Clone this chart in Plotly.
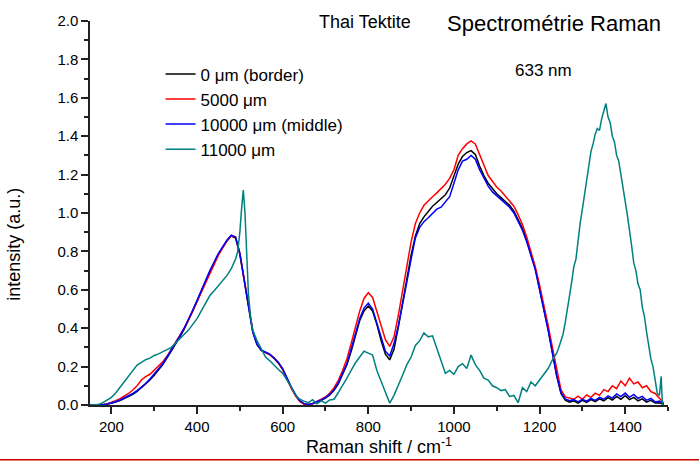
import plotly.graph_objects as go

# ---- data ----
shift = list(range(150, 1500, 10))  # Raman shift grid, cm-1 (150..1490)

i_0um = [
    0, 0, 0, 0.001, 0.004, 0.008, 0.015, 0.023, 0.033, 0.043,
    0.056, 0.071, 0.089, 0.108, 0.13, 0.155, 0.18, 0.21, 0.245, 0.28,
    0.315, 0.355, 0.395, 0.44, 0.49, 0.54, 0.595, 0.645, 0.695, 0.74,
    0.785, 0.82, 0.855, 0.88, 0.87, 0.785, 0.645, 0.505, 0.385, 0.315,
    0.285, 0.275, 0.262, 0.242, 0.218, 0.185, 0.135, 0.09, 0.05, 0.02,
    0.006, 0.002, 0.006, 0.014, 0.024, 0.036, 0.052, 0.076, 0.11, 0.16,
    0.21, 0.28, 0.36, 0.44, 0.49, 0.515, 0.49, 0.42, 0.335, 0.265,
    0.235, 0.29, 0.405, 0.53, 0.66, 0.78, 0.88, 0.945, 0.98, 1.01,
    1.035, 1.055, 1.075, 1.095, 1.13, 1.19, 1.255, 1.295, 1.315, 1.325,
    1.305, 1.245, 1.195, 1.155, 1.125, 1.10, 1.08, 1.06, 1.04, 1.01,
    0.965, 0.92, 0.86, 0.79, 0.71, 0.605, 0.505, 0.395, 0.275, 0.155,
    0.06, 0.025, 0.015, 0.022, 0.01, 0.024, 0.014, 0.028, 0.018, 0.032,
    0.022, 0.038, 0.026, 0.045, 0.03, 0.048, 0.028, 0.04, 0.022, 0.032,
    0.015, 0.024, 0.01, 0.012, 0.003,
]

i_5000um = [
    0, 0, 0, 0.002, 0.006, 0.013, 0.022, 0.033, 0.045, 0.06,
    0.078, 0.10, 0.13, 0.148, 0.16, 0.18, 0.20, 0.225, 0.255, 0.29,
    0.325, 0.362, 0.40, 0.442, 0.49, 0.54, 0.59, 0.64, 0.69, 0.737,
    0.78, 0.82, 0.855, 0.882, 0.875, 0.79, 0.65, 0.51, 0.39, 0.318,
    0.285, 0.272, 0.262, 0.245, 0.222, 0.185, 0.135, 0.088, 0.048, 0.018,
    0.004, 0.002, 0.008, 0.017, 0.03, 0.042, 0.062, 0.09, 0.128, 0.18,
    0.24, 0.32, 0.40, 0.49, 0.555, 0.585, 0.56, 0.49, 0.41, 0.34,
    0.305, 0.355, 0.465, 0.595, 0.73, 0.85, 0.945, 1.0, 1.04, 1.065,
    1.085, 1.105, 1.125, 1.15, 1.18, 1.225, 1.30, 1.335, 1.36, 1.375,
    1.36, 1.305, 1.25, 1.195, 1.165, 1.135, 1.115, 1.09, 1.065, 1.035,
    0.99, 0.94, 0.875, 0.80, 0.72, 0.625, 0.525, 0.415, 0.30, 0.18,
    0.08, 0.042, 0.035, 0.03, 0.046, 0.03, 0.052, 0.04, 0.062, 0.05,
    0.08, 0.07, 0.10, 0.085, 0.125, 0.10, 0.14, 0.11, 0.12, 0.09,
    0.10, 0.07, 0.06, 0.035, 0.01,
]

i_10000um = [
    0, 0, 0, 0.002, 0.005, 0.01, 0.017, 0.026, 0.036, 0.046,
    0.06, 0.075, 0.093, 0.112, 0.135, 0.16, 0.185, 0.215, 0.25, 0.285,
    0.32, 0.36, 0.40, 0.445, 0.495, 0.545, 0.60, 0.65, 0.70, 0.745,
    0.79, 0.825, 0.86, 0.885, 0.875, 0.79, 0.65, 0.50, 0.38, 0.315,
    0.285, 0.275, 0.265, 0.245, 0.222, 0.19, 0.14, 0.095, 0.055, 0.022,
    0.007, 0.003, 0.008, 0.016, 0.026, 0.038, 0.055, 0.08, 0.115, 0.165,
    0.215, 0.29, 0.37, 0.45, 0.505, 0.53, 0.50, 0.43, 0.35, 0.28,
    0.255, 0.32, 0.41, 0.52, 0.64, 0.76, 0.87, 0.925, 0.955, 0.975,
    0.995, 1.02, 1.03, 1.055, 1.085, 1.155, 1.225, 1.27, 1.28, 1.30,
    1.28, 1.225, 1.18, 1.14, 1.11, 1.09, 1.075, 1.055, 1.03, 1.0,
    0.955, 0.91, 0.85, 0.78, 0.705, 0.60, 0.50, 0.39, 0.27, 0.15,
    0.065, 0.032, 0.022, 0.028, 0.016, 0.03, 0.02, 0.034, 0.024, 0.04,
    0.03, 0.048, 0.036, 0.058, 0.044, 0.062, 0.04, 0.055, 0.035, 0.045,
    0.025, 0.034, 0.016, 0.02, 0.005,
]

shift_11000 = (list(range(150, 490, 10))
               + [490, 495, 500, 504, 508, 512, 516, 520, 525, 530]
               + list(range(540, 1240, 10))
               + list(range(1240, 1485, 5))
               + [1484, 1487])

i_11000um = [
    # 150 - 480
    0, 0, 0.002, 0.012, 0.025, 0.04, 0.063, 0.092, 0.122, 0.152,
    0.183, 0.208, 0.222, 0.236, 0.244, 0.258, 0.266, 0.279, 0.288, 0.30,
    0.322, 0.345, 0.365, 0.39, 0.42, 0.45, 0.49, 0.53, 0.57, 0.595,
    0.62, 0.645, 0.675, 0.71,
    # 490 - 530 (sharp band)
    0.76, 0.80, 0.90, 1.02, 1.12, 1.00, 0.76, 0.58, 0.46, 0.39,
    # 540 - 1230
    0.335, 0.29, 0.25, 0.23, 0.205, 0.185, 0.165, 0.13, 0.095, 0.05,
    0.03, 0.02, 0.012, 0.028, 0.006, 0.022, 0.01, 0.026, 0.03, 0.065,
    0.10, 0.14, 0.18, 0.22, 0.25, 0.28, 0.27, 0.26, 0.18, 0.12,
    0.065, 0.01, 0.05, 0.10, 0.155, 0.21, 0.25, 0.31, 0.335, 0.375,
    0.355, 0.36, 0.29, 0.23, 0.165, 0.18, 0.16, 0.20, 0.215, 0.19,
    0.26, 0.21, 0.18, 0.14, 0.13, 0.10, 0.09, 0.075, 0.08, 0.045,
    0.05, 0.012, 0.09, 0.07, 0.12, 0.10, 0.13, 0.16, 0.19, 0.235,
    # 1240 - 1480 (step 5)
    0.27, 0.30, 0.33, 0.37, 0.43, 0.51, 0.57, 0.64, 0.72, 0.76,
    0.87, 0.95, 1.02, 1.10, 1.16, 1.24, 1.32, 1.36, 1.41, 1.44,
    1.43, 1.49, 1.53, 1.57, 1.50, 1.47, 1.40, 1.37, 1.30, 1.27,
    1.20, 1.12, 1.06, 0.99, 0.92, 0.83, 0.74, 0.70, 0.63, 0.60,
    0.51, 0.46, 0.38, 0.31, 0.24, 0.20, 0.14, 0.06, 0.05,
    # tail
    0.15, 0.0,
]

series_names = ["0 μm (border)", "5000 μm", "10000 μm (middle)", "11000 μm"]
series_colors = ["#000000", "#ff0000", "#0000ff", "#008080"]

FONT = "Liberation Sans, Arial, sans-serif"

fig = go.Figure()
xs = [shift, shift, shift, shift_11000]
ys = [i_0um, i_5000um, i_10000um, i_11000um]
for name, color, x, y in zip(series_names, series_colors, xs, ys):
    fig.add_trace(go.Scatter(x=x, y=y, mode="lines", name=name,
                             line=dict(color=color, width=1.5)))

fig.update_layout(
    width=699, height=463,
    margin=dict(l=90, r=31, t=13, b=57),
    paper_bgcolor="white", plot_bgcolor="white",
    font=dict(family=FONT, size=15, color="#000000"),
    showlegend=True,
    legend=dict(x=0.122, y=0.908, xanchor="left", yanchor="top",
                bgcolor="rgba(0,0,0,0)", borderwidth=0,
                font=dict(family=FONT, size=17)),
)

fig.update_xaxes(
    range=[150, 1500], showgrid=False, zeroline=False,
    showline=True, linecolor="#222222", linewidth=1.5,
    ticks="outside", ticklen=7, tickwidth=1.5, tickcolor="#222222",
    dtick=200, tick0=0,
    minor=dict(dtick=100, tick0=0, ticks="outside", ticklen=4,
               tickwidth=1.5, tickcolor="#222222"),
    tickfont=dict(size=15),
    title=dict(text="Raman shift / cm<sup>-1</sup>", font=dict(size=18), standoff=4),
)
fig.update_yaxes(
    range=[0, 2.0], showgrid=False, zeroline=False,
    showline=True, linecolor="#222222", linewidth=1.5,
    ticks="outside", ticklen=7, tickwidth=1.5, tickcolor="#222222",
    dtick=0.2, tick0=0, tickformat=".1f",
    minor=dict(dtick=0.1, tick0=0, ticks="outside", ticklen=4,
               tickwidth=1.5, tickcolor="#222222"),
    tickfont=dict(size=15),
)

fig.add_annotation(text="intensity (a.u.)", textangle=-90, showarrow=False,
                   xref="paper", yref="paper", x=-0.1315, y=0.42,
                   xanchor="center", yanchor="middle", font=dict(size=18))
fig.add_annotation(text="Thai Tektite", showarrow=False, xref="paper", yref="paper",
                   x=0.475, y=0.997, xanchor="center", yanchor="middle",
                   font=dict(size=18))
fig.add_annotation(text="Spectrométrie Raman", showarrow=False, xref="paper", yref="paper",
                   x=0.803, y=0.993, xanchor="center", yanchor="middle",
                   font=dict(size=22))
fig.add_annotation(text="633 nm", showarrow=False, xref="paper", yref="paper",
                   x=0.784, y=0.870, xanchor="center", yanchor="middle",
                   font=dict(size=17))

# red rule across the bottom of the image
fig.add_shape(type="line", xref="paper", yref="paper",
              x0=-0.16, x1=1.06, y0=-0.1425, y1=-0.1425,
              line=dict(color="#cc0000", width=1.5))

fig.write_html("out.html")
